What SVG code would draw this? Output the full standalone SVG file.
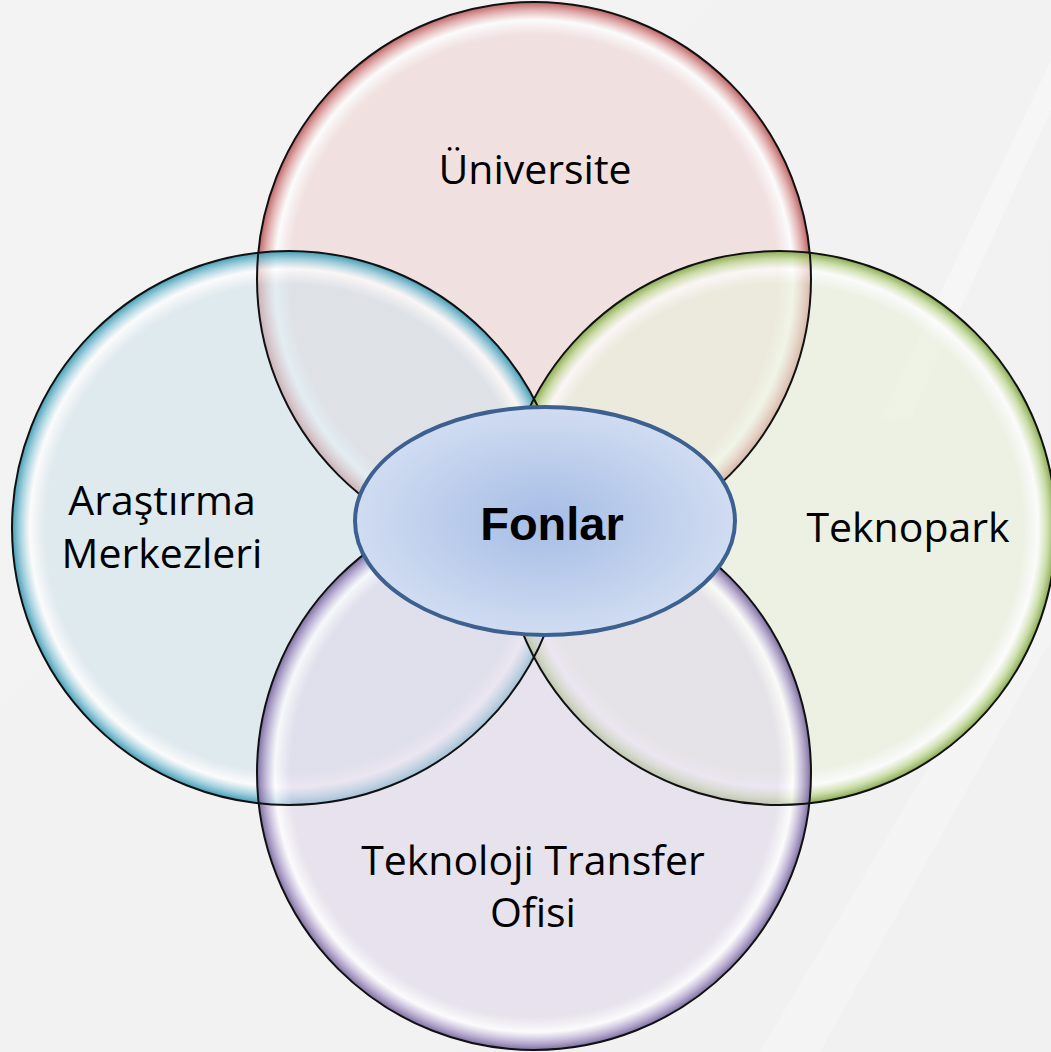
<svg xmlns="http://www.w3.org/2000/svg" width="1051" height="1052" viewBox="0 0 1051 1052">
  <defs>
    <linearGradient id="bg" x1="0" y1="0" x2="1" y2="1">
      <stop offset="0" stop-color="#f3f3f3"/>
      <stop offset="1" stop-color="#f1f1f1"/>
    </linearGradient>
    <radialGradient id="gRed" cx="0.5" cy="0.5" r="0.5">
      <stop offset="0" stop-color="#f0d4d4" stop-opacity="0.6"/>
      <stop offset="0.88" stop-color="#f0d4d4" stop-opacity="0.6"/>
      <stop offset="0.935" stop-color="#ffffff" stop-opacity="0.7"/>
      <stop offset="0.97" stop-color="#e0a4a4" stop-opacity="0.8"/>
      <stop offset="1" stop-color="#b85a5a" stop-opacity="0.95"/>
    </radialGradient>
    <radialGradient id="gBlue" cx="0.5" cy="0.5" r="0.5">
      <stop offset="0" stop-color="#d2e4ec" stop-opacity="0.6"/>
      <stop offset="0.88" stop-color="#d2e4ec" stop-opacity="0.6"/>
      <stop offset="0.935" stop-color="#ffffff" stop-opacity="0.7"/>
      <stop offset="0.97" stop-color="#92cada" stop-opacity="0.8"/>
      <stop offset="1" stop-color="#3a98b2" stop-opacity="0.95"/>
    </radialGradient>
    <radialGradient id="gGreen" cx="0.5" cy="0.5" r="0.5">
      <stop offset="0" stop-color="#e8f0da" stop-opacity="0.6"/>
      <stop offset="0.88" stop-color="#e8f0da" stop-opacity="0.6"/>
      <stop offset="0.935" stop-color="#ffffff" stop-opacity="0.7"/>
      <stop offset="0.97" stop-color="#c4da9c" stop-opacity="0.8"/>
      <stop offset="1" stop-color="#82a646" stop-opacity="0.95"/>
    </radialGradient>
    <radialGradient id="gPurple" cx="0.5" cy="0.5" r="0.5">
      <stop offset="0" stop-color="#e0d8ea" stop-opacity="0.6"/>
      <stop offset="0.88" stop-color="#e0d8ea" stop-opacity="0.6"/>
      <stop offset="0.935" stop-color="#ffffff" stop-opacity="0.7"/>
      <stop offset="0.97" stop-color="#b6a8d0" stop-opacity="0.8"/>
      <stop offset="1" stop-color="#76669c" stop-opacity="0.95"/>
    </radialGradient>
    <radialGradient id="gCenter" cx="0.5" cy="0.5" r="0.5">
      <stop offset="0" stop-color="#a6bde6"/>
      <stop offset="1" stop-color="#d0dcf1"/>
    </radialGradient>
  </defs>
  <style>
    .outline { fill: none; stroke: #111111; stroke-width: 2; }
    .lbl { font-family: "Open Sans", "Noto Sans", sans-serif; font-size: 41px; fill: #000000; text-anchor: middle; }
    .core { font-family: "Liberation Sans", Arial, sans-serif; font-size: 47px; font-weight: bold; fill: #000000; text-anchor: middle; }
  </style>

  <rect x="0" y="0" width="1051" height="1052" fill="url(#bg)"/>
  <g id="background-streaks" fill="#ffffff">
    <path d="M760 1052 L1051 560 L1051 640 L820 1052 Z" opacity="0.25"/>
    <path d="M880 420 L1051 60 L1051 110 L910 420 Z" opacity="0.3"/>
  </g>

  <g id="node-universite">
    <circle cx="534" cy="279" r="277" fill="url(#gRed)"/>
    <text class="lbl" x="535" y="184">Üniversite</text>
  </g>
  <g id="node-arastirma">
    <circle cx="289" cy="528" r="277" fill="url(#gBlue)"/>
    <text class="lbl" x="162" y="515">Araştırma<tspan x="162" dy="53">Merkezleri</tspan></text>
  </g>
  <g id="node-teknopark">
    <circle cx="779" cy="528" r="277" fill="url(#gGreen)"/>
    <text class="lbl" x="908" y="542">Teknopark</text>
  </g>
  <g id="node-tto">
    <circle cx="534" cy="773" r="277" fill="url(#gPurple)"/>
    <text class="lbl" x="533" y="875">Teknoloji Transfer<tspan x="533" dy="52">Ofisi</tspan></text>
  </g>
  <g id="outlines">
    <circle class="outline" cx="534" cy="279" r="277"/>
    <circle class="outline" cx="289" cy="528" r="277"/>
    <circle class="outline" cx="779" cy="528" r="277"/>
    <circle class="outline" cx="534" cy="773" r="277"/>
  </g>
  <g id="connectors"></g>
  <g id="node-fonlar">
    <ellipse cx="545" cy="521" rx="190" ry="114" fill="url(#gCenter)" stroke="#3c6190" stroke-width="4"/>
    <text class="core" x="552" y="540">Fonlar</text>
  </g>
</svg>
